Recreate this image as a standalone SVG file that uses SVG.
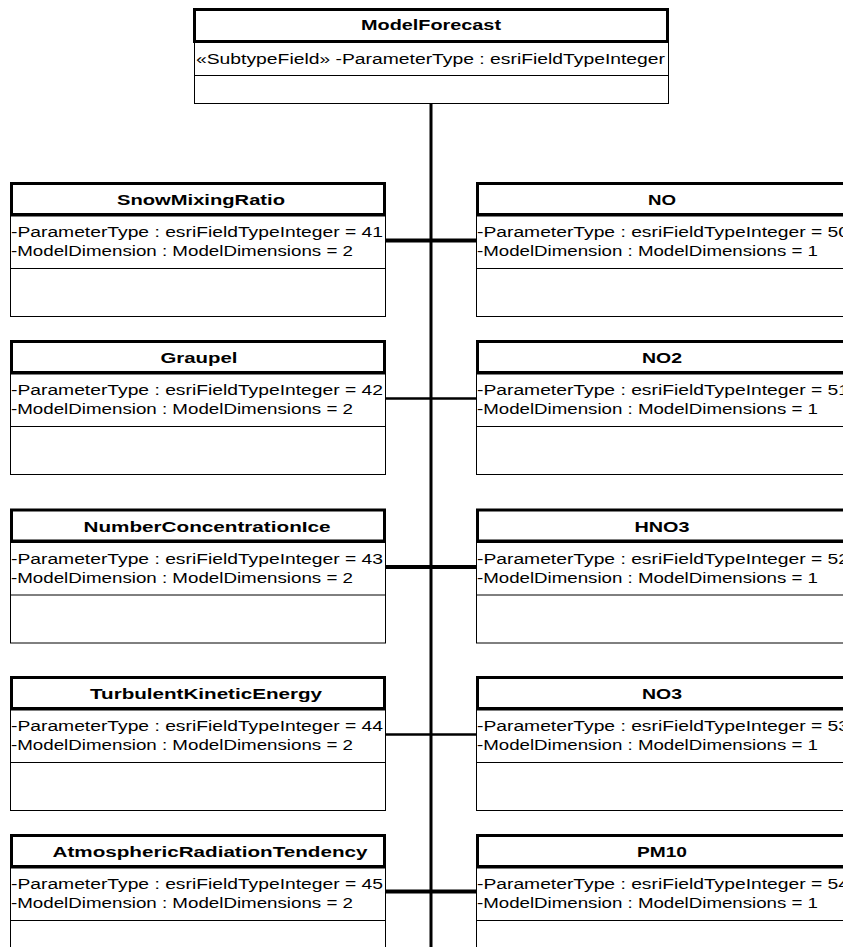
<svg xmlns="http://www.w3.org/2000/svg" width="843" height="947" viewBox="0 0 843 947">
<style>
.bg{fill:#fff}
.hd{fill:#fff;stroke:#000;stroke-width:3}
.bd{fill:#fff;stroke:#000;stroke-width:1}
.ln{stroke:#000;stroke-width:1;fill:none}
.t{font-family:"Liberation Sans",Arial,sans-serif;font-weight:bold;font-size:14px;fill:#000;text-anchor:middle}
.a{font-family:"Liberation Sans",Arial,sans-serif;font-size:14px;fill:#000}
.c{stroke:#000;fill:none}
.k{stroke-width:4}
.n{stroke-width:2.5}
</style>
<defs>
<g id="lbox">
<rect class="bd" x="10.5" y="216" width="375" height="100.5"/>
<line class="ln" x1="10.5" y1="268.5" x2="385.5" y2="268.5"/>
<rect class="hd" x="11.5" y="183.5" width="373" height="31"/>
</g>
<g id="rbox">
<rect class="bd" x="476.5" y="216" width="375" height="100.5"/>
<line class="ln" x1="476.5" y1="268.5" x2="851.5" y2="268.5"/>
<rect class="hd" x="477.5" y="183.5" width="373" height="31"/>
</g>
</defs>
<rect class="bg" x="0" y="0" width="843" height="947"/>
<g id="connectors">
<line class="c" x1="431" y1="103" x2="431" y2="947" stroke-width="3"/>
<line class="c k" x1="386" y1="240.5" x2="476" y2="240.5"/>
<line class="c n" x1="386" y1="398.5" x2="476" y2="398.5"/>
<line class="c k" x1="386" y1="567" x2="476" y2="567"/>
<line class="c n" x1="386" y1="734.5" x2="476" y2="734.5"/>
<line class="c k" x1="386" y1="891.5" x2="476" y2="891.5"/>
</g>
<g id="ModelForecast">
<rect class="bd" x="194.5" y="42" width="474" height="61.5"/>
<line class="ln" x1="194.5" y1="75.5" x2="668.5" y2="75.5"/>
<rect class="hd" x="194.5" y="9.5" width="473" height="32"/>
<text class="t" x="431" y="30" textLength="140" lengthAdjust="spacingAndGlyphs">ModelForecast</text>
<text class="a" x="196" y="64" textLength="469" lengthAdjust="spacingAndGlyphs">«SubtypeField» -ParameterType : esriFieldTypeInteger</text>
</g>
<g id="SnowMixingRatio">
<use href="#lbox"/>
<text class="t" x="201" y="205" textLength="168" lengthAdjust="spacingAndGlyphs">SnowMixingRatio</text>
<text class="a" x="11" y="237" textLength="372" lengthAdjust="spacingAndGlyphs">-ParameterType : esriFieldTypeInteger = 41</text>
<text class="a" x="11" y="256" textLength="342" lengthAdjust="spacingAndGlyphs">-ModelDimension : ModelDimensions = 2</text>
</g>
<g id="NO">
<use href="#rbox"/>
<text class="t" x="662" y="205" textLength="28" lengthAdjust="spacingAndGlyphs">NO</text>
<text class="a" x="477" y="237" textLength="372" lengthAdjust="spacingAndGlyphs">-ParameterType : esriFieldTypeInteger = 50</text>
<text class="a" x="477" y="256" textLength="341" lengthAdjust="spacingAndGlyphs">-ModelDimension : ModelDimensions = 1</text>
</g>
<g id="Graupel" transform="translate(0,158)">
<use href="#lbox"/>
<text class="t" x="199" y="205" textLength="77" lengthAdjust="spacingAndGlyphs">Graupel</text>
<text class="a" x="11" y="237" textLength="372" lengthAdjust="spacingAndGlyphs">-ParameterType : esriFieldTypeInteger = 42</text>
<text class="a" x="11" y="256" textLength="342" lengthAdjust="spacingAndGlyphs">-ModelDimension : ModelDimensions = 2</text>
</g>
<g id="NO2" transform="translate(0,158)">
<use href="#rbox"/>
<text class="t" x="662" y="205" textLength="40" lengthAdjust="spacingAndGlyphs">NO2</text>
<text class="a" x="477" y="237" textLength="372" lengthAdjust="spacingAndGlyphs">-ParameterType : esriFieldTypeInteger = 51</text>
<text class="a" x="477" y="256" textLength="341" lengthAdjust="spacingAndGlyphs">-ModelDimension : ModelDimensions = 1</text>
</g>
<g id="NumberConcentrationIce" transform="translate(0,326.5)">
<use href="#lbox"/>
<text class="t" x="207" y="205" textLength="247" lengthAdjust="spacingAndGlyphs">NumberConcentrationIce</text>
<text class="a" x="11" y="237" textLength="372" lengthAdjust="spacingAndGlyphs">-ParameterType : esriFieldTypeInteger = 43</text>
<text class="a" x="11" y="256" textLength="342" lengthAdjust="spacingAndGlyphs">-ModelDimension : ModelDimensions = 2</text>
</g>
<g id="HNO3" transform="translate(0,326.5)">
<use href="#rbox"/>
<text class="t" x="662" y="205" textLength="55" lengthAdjust="spacingAndGlyphs">HNO3</text>
<text class="a" x="477" y="237" textLength="372" lengthAdjust="spacingAndGlyphs">-ParameterType : esriFieldTypeInteger = 52</text>
<text class="a" x="477" y="256" textLength="341" lengthAdjust="spacingAndGlyphs">-ModelDimension : ModelDimensions = 1</text>
</g>
<g id="TurbulentKineticEnergy" transform="translate(0,494)">
<use href="#lbox"/>
<text class="t" x="206" y="205" textLength="232" lengthAdjust="spacingAndGlyphs">TurbulentKineticEnergy</text>
<text class="a" x="11" y="237" textLength="372" lengthAdjust="spacingAndGlyphs">-ParameterType : esriFieldTypeInteger = 44</text>
<text class="a" x="11" y="256" textLength="342" lengthAdjust="spacingAndGlyphs">-ModelDimension : ModelDimensions = 2</text>
</g>
<g id="NO3" transform="translate(0,494)">
<use href="#rbox"/>
<text class="t" x="662" y="205" textLength="40" lengthAdjust="spacingAndGlyphs">NO3</text>
<text class="a" x="477" y="237" textLength="372" lengthAdjust="spacingAndGlyphs">-ParameterType : esriFieldTypeInteger = 53</text>
<text class="a" x="477" y="256" textLength="341" lengthAdjust="spacingAndGlyphs">-ModelDimension : ModelDimensions = 1</text>
</g>
<g id="AtmosphericRadiationTendency" transform="translate(0,652)">
<use href="#lbox"/>
<text class="t" x="210" y="205" textLength="315" lengthAdjust="spacingAndGlyphs">AtmosphericRadiationTendency</text>
<text class="a" x="11" y="237" textLength="372" lengthAdjust="spacingAndGlyphs">-ParameterType : esriFieldTypeInteger = 45</text>
<text class="a" x="11" y="256" textLength="342" lengthAdjust="spacingAndGlyphs">-ModelDimension : ModelDimensions = 2</text>
</g>
<g id="PM10" transform="translate(0,652)">
<use href="#rbox"/>
<text class="t" x="662" y="205" textLength="50" lengthAdjust="spacingAndGlyphs">PM10</text>
<text class="a" x="477" y="237" textLength="372" lengthAdjust="spacingAndGlyphs">-ParameterType : esriFieldTypeInteger = 54</text>
<text class="a" x="477" y="256" textLength="341" lengthAdjust="spacingAndGlyphs">-ModelDimension : ModelDimensions = 1</text>
</g>
</svg>
